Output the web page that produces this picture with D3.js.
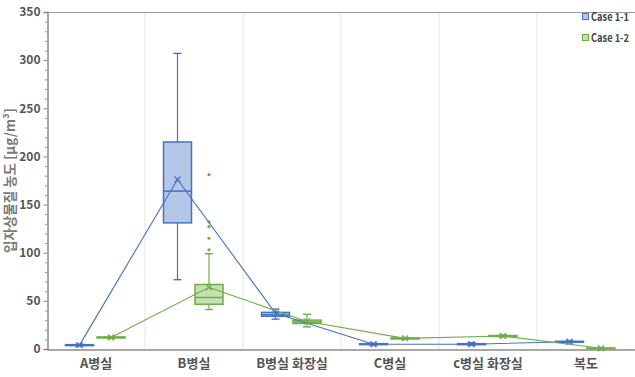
<!DOCTYPE html>
<html>
<head>
<meta charset="utf-8">
<script src="https://cdn.jsdelivr.net/npm/d3@7"></script>
<style>
  html, body { margin: 0; padding: 0; background: #fff; }
  svg text { font-family: "Noto Sans CJK KR", "Noto Sans", sans-serif; }
</style>
</head>
<body>
<svg id="chart" width="635" height="377"></svg>
<script>
// Locations on the x axis
const categories = ["A병실", "B병실", "B병실 화장실", "C병실", "c병실 화장실", "복도"];
const seriesNames = ["Case 1-1", "Case 1-2"];

// Box statistics per location: [min, q1, median, q3, max]
const case11Box = [
  [3, 3.5, 4, 4.5, 5],
  [72, 131, 164, 215, 307],
  [31, 34, 35.5, 38, 41.5],
  [4, 4.5, 5, 5.5, 6],
  [4, 4.5, 5, 5.5, 6.5],
  [6.5, 7, 7.5, 8, 8.5]
];
const case12Box = [
  [11, 11.5, 12, 12.5, 13],
  [41, 46.5, 53.5, 67, 99],
  [23, 26.5, 28, 30, 36],
  [10, 10.5, 11, 11.5, 12],
  [12.5, 13, 13.5, 14, 14.5],
  [0, 0.3, 0.6, 1, 1.3]
];
// Means per location (joined by a line)
const case11Mean = [4, 176, 37, 5, 5, 7.5];
const case12Mean = [12, 64, 28.5, 11, 13.5, 0.7];
// Outlier points per location
const case11Outliers = [[], [], [], [], [], []];
const case12Outliers = [[], [181, 132, 127, 115, 103], [], [], [], []];

const yTicks = [0, 50, 100, 150, 200, 250, 300, 350];

const series = [
  { name: seriesNames[0], box: case11Box, mean: case11Mean, out: case11Outliers,
    stroke: "#4472c4", fill: "#b4c7e7", offset: -16.5 },
  { name: seriesNames[1], box: case12Box, mean: case12Mean, out: case12Outliers,
    stroke: "#70ad47", fill: "#c5e0b4", offset: 15 }
];

const svg = d3.select("#chart");
const margin = { left: 47, right: 0, top: 12, bottom: 28 };
const W = 635, H = 377;

const x = d3.scaleBand().domain(categories).range([margin.left, W - margin.right]);
const y = d3.scaleLinear().domain([0, 350]).range([H - margin.bottom, margin.top]);

// vertical gridlines at category boundaries
svg.append("g").selectAll("line")
  .data(categories.slice(1))
  .join("line")
  .attr("x1", d => x(d)).attr("x2", d => x(d))
  .attr("y1", y(350)).attr("y2", y(0))
  .attr("stroke", "#e4e4e4").attr("stroke-width", 1);

// top border
svg.append("line")
  .attr("x1", margin.left).attr("x2", W)
  .attr("y1", y(350) + 0.5).attr("y2", y(350) + 0.5)
  .attr("stroke", "#9a9a9a");

// y axis with minor ticks
const yAxis = svg.append("g")
  .attr("transform", `translate(${margin.left + 0.5},0)`)
  .call(d3.axisLeft(y).tickValues(yTicks).tickSize(4).tickPadding(3));
yAxis.select(".domain").attr("stroke", "#8a8a8a").attr("stroke-width", 1.5);
yAxis.selectAll(".tick line").attr("stroke", "#8a8a8a");
yAxis.selectAll("text")
  .attr("fill", "#555").attr("font-size", 12).attr("font-weight", "bold");
const minor = d3.range(0, 351, 10).filter(v => v % 50 !== 0);
svg.append("g").selectAll("line").data(minor).join("line")
  .attr("x1", margin.left - 2).attr("x2", margin.left + 2)
  .attr("y1", d => y(d) + 0.5).attr("y2", d => y(d) + 0.5)
  .attr("stroke", "#9a9a9a");

// x axis
const xAxis = svg.append("g")
  .attr("transform", `translate(0,${y(0) + 0.5})`)
  .call(d3.axisBottom(x).tickSize(0).tickPadding(9));
xAxis.select(".domain").attr("stroke", "#8a8a8a").attr("stroke-width", 1.5);
xAxis.selectAll("text")
  .attr("fill", "#555").attr("font-size", 13).attr("font-weight", "bold");

// y axis title
svg.append("text")
  .attr("transform", `translate(15,${(y(0) + y(350)) / 2}) rotate(-90)`)
  .attr("text-anchor", "middle")
  .attr("fill", "#7a7a7a").attr("font-size", 13.5).attr("font-weight", "bold")
  .text("입자상물질 농도 [μg/m³]");

const boxW = 28, capW = 8;
const cx = (i, s) => x(categories[i]) + x.bandwidth() / 2 + s.offset;

// boxes, whiskers, outliers
series.forEach(s => {
  const g = svg.append("g");
  s.box.forEach((b, i) => {
    const c = cx(i, s);
    const [mn, q1, md, q3, mx] = b;
    g.append("line").attr("x1", c).attr("x2", c).attr("y1", y(mx)).attr("y2", y(q3))
      .attr("stroke", s.stroke).attr("stroke-width", 1.2);
    g.append("line").attr("x1", c).attr("x2", c).attr("y1", y(q1)).attr("y2", y(mn))
      .attr("stroke", s.stroke).attr("stroke-width", 1.2);
    [mn, mx].forEach(v => {
      g.append("line").attr("x1", c - capW / 2).attr("x2", c + capW / 2)
        .attr("y1", y(v)).attr("y2", y(v))
        .attr("stroke", s.stroke).attr("stroke-width", 1.4);
    });
    g.append("rect")
      .attr("x", c - boxW / 2).attr("width", boxW)
      .attr("y", y(q3)).attr("height", Math.max(y(q1) - y(q3), 0.5))
      .attr("fill", s.fill).attr("stroke", s.stroke).attr("stroke-width", 1.5);
    g.append("line").attr("x1", c - boxW / 2).attr("x2", c + boxW / 2)
      .attr("y1", y(md)).attr("y2", y(md))
      .attr("stroke", s.stroke).attr("stroke-width", 1.5);
    s.out[i].forEach(v => {
      g.append("circle").attr("cx", c).attr("cy", y(v)).attr("r", 1.6)
        .attr("fill", s.stroke);
    });
  });
});

// mean lines and mean markers drawn over the boxes
series.forEach(s => {
  const g = svg.append("g");
  g.append("path")
    .datum(s.mean)
    .attr("d", d3.line().x((d, i) => cx(i, s)).y(d => y(d)))
    .attr("fill", "none").attr("stroke", s.stroke).attr("stroke-width", 1.1);
  s.mean.forEach((v, i) => {
    const c = cx(i, s), m = y(v);
    g.append("path")
      .attr("d", `M${c - 3},${m - 3}L${c + 3},${m + 3}M${c - 3},${m + 3}L${c + 3},${m - 3}`)
      .attr("stroke", s.stroke).attr("stroke-width", 1.3);
  });
});

// legend
const leg = svg.append("g");
series.forEach((s, i) => {
  const ly = 17 + i * 21;
  leg.append("rect").attr("x", 582.5).attr("y", ly - 3.5).attr("width", 6).attr("height", 6)
    .attr("fill", s.fill).attr("stroke", s.stroke).attr("stroke-width", 1);
  leg.append("text").attr("x", 591).attr("y", ly + 4)
    .attr("fill", "#444").attr("font-size", 11).attr("font-weight", "bold")
    .attr("textLength", 38).attr("lengthAdjust", "spacingAndGlyphs")
    .text(s.name);
});
</script>
</body>
</html>
